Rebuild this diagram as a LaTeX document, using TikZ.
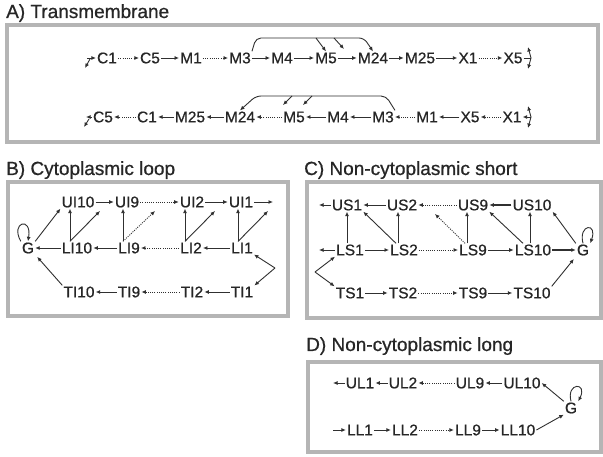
\documentclass[tikz,border=0pt]{standalone}
\usepackage{fontspec}
\setmainfont{Liberation Sans}
\newfontfamily\heavyfont{Liberation Sans}[FakeBold=0.7]
\usetikzlibrary{arrows.meta}
\definecolor{txt}{HTML}{262626}
\definecolor{ln}{HTML}{303030}
\definecolor{bx}{HTML}{B5B5B5}
\begin{document}
\begin{tikzpicture}[x=1pt,y=-1pt,
  lab/.style={inner sep=1pt, font=\heavyfont\fontsize{15.5}{16}\selectfont, text=txt},
  ttl/.style={inner sep=0pt, anchor=base west, font=\heavyfont\fontsize{19}{20}\selectfont, text=txt},
  panel/.style={draw=bx, line width=4pt},
  arr/.style={draw=ln, line width=0.9pt, -{Latex[length=4.5pt,width=4pt]}},
  darr/.style={arr, dash pattern=on 1pt off 1.2pt},
  thk/.style={arr, line width=1.5pt},
  plain/.style={draw=ln, line width=0.9pt}
]
\useasboundingbox (0,0) rectangle (603,457);
\fill[white] (0,0) rectangle (603,457);

% ---------- titles and panels
\node[ttl] (tA) at (6,18) {A) Transmembrane};
\node[ttl] (tB) at (6,175) {B) Cytoplasmic loop};
\node[ttl] (tC) at (304,175) {C) Non-cytoplasmic short};
\node[ttl] (tD) at (306,351) {D) Non-cytoplasmic long};
\draw[panel] (7,25) rectangle (598,142);
\draw[panel] (8,182) rectangle (288,316);
\draw[panel] (307,182) rectangle (601,318);
\draw[panel] (308,362) rectangle (601,452);

% ---------- A, row 1
\foreach \n/\x in {C1/107,C5/150,M1/191,M3/240,M4/282,M5/326,M24/373,M25/420,X1/468,X5/513}
  \node[lab] (a1\n) at (\x,58) {\n};
\draw[darr] (a1C1) -- (a1C5);
\draw[arr] (a1C5) -- (a1M1);
\draw[darr] (a1M1) -- (a1M3);
\draw[arr] (a1M3) -- (a1M4);
\draw[arr] (a1M4) -- (a1M5);
\draw[arr] (a1M5) -- (a1M24);
\draw[arr] (a1M24) -- (a1M25);
\draw[arr] (a1M25) -- (a1X1);
\draw[darr] (a1X1) -- (a1X5);
\draw[arr, rounded corners=5pt] (a1M3.north east) -- (256,38) -- (364,38) -- (a1M24.north);
\coordinate (a1b1) at (316,38);
\coordinate (a1b2) at (334,38);
\coordinate (a1e2) at (344,49);
\draw[arr] (a1b1) -- (a1M5.north);
\draw[arr] (a1b2) -- (a1e2);
\coordinate (a1L) at (87,58);
\coordinate (a1Ls) at (90,59);
\coordinate (a1Ld) at (85,68);
\draw[arr] (a1L) -- (a1C1);
\draw[arr] (a1Ls) -- (a1Ld);
\coordinate (a1R) at (531,58);
\coordinate (a1Ru) at (528,47);
\coordinate (a1Rd) at (528,69);
\draw[plain] (a1X5) -- (a1R);
\draw[arr] (a1R) -- (a1Ru);
\draw[arr] (a1R) -- (a1Rd);

% ---------- A, row 2
\foreach \n/\x in {C5/103,C1/147,M25/190,M24/240,M5/294,M4/338,M3/383,M1/427,X5/470,X1/512}
  \node[lab] (a2\n) at (\x,117) {\n};
\draw[darr] (a2C1) -- (a2C5);
\draw[arr] (a2M25) -- (a2C1);
\draw[arr] (a2M24) -- (a2M25);
\draw[darr] (a2M5) -- (a2M24);
\draw[arr] (a2M4) -- (a2M5);
\draw[arr] (a2M3) -- (a2M4);
\draw[darr] (a2M1) -- (a2M3);
\draw[arr] (a2X5) -- (a2M1);
\draw[darr] (a2X1) -- (a2X5);
\draw[arr, rounded corners=5pt] (a2M3.north east) -- (386,96) -- (256,96) -- (a2M24.north);
\coordinate (a2b1) at (292,96);
\coordinate (a2e1) at (283,105);
\coordinate (a2b2) at (312,96);
\coordinate (a2e2) at (303,105);
\draw[arr] (a2b1) -- (a2e1);
\draw[arr] (a2b2) -- (a2e2);
\coordinate (a2L) at (86,117);
\coordinate (a2Ls) at (89,119);
\coordinate (a2Ld) at (84,127);
\draw[arr] (a2C5) -- (a2L);
\draw[arr] (a2Ls) -- (a2Ld);
\coordinate (a2R) at (531,117);
\coordinate (a2Ru) at (528,106);
\coordinate (a2Rd) at (528,128);
\draw[arr] (a2R) -- (a2X1);
\draw[arr] (a2R) -- (a2Ru);
\draw[arr] (a2R) -- (a2Rd);

% ---------- B
\foreach \n/\x in {UI10/78,UI9/127,UI2/192,UI1/241}
  \node[lab] (b\n) at (\x,202) {\n};
\foreach \n/\x in {LI10/77,LI9/129,LI2/191,LI1/242}
  \node[lab] (b\n) at (\x,248) {\n};
\foreach \n/\x in {TI10/79,TI9/129,TI2/192,TI1/242}
  \node[lab] (b\n) at (\x,292) {\n};
\node[lab] (bG) at (28,248) {G};
\coordinate (bUIe) at (273,202);
\draw[arr] (bUI10) -- (bUI9);
\draw[darr] (bUI9) -- (bUI2);
\draw[arr] (bUI2) -- (bUI1);
\draw[arr] (bUI1) -- (bUIe);
\draw[arr] (bLI10) -- (bG);
\draw[arr] (bLI9) -- (bLI10);
\draw[darr] (bLI2) -- (bLI9);
\draw[arr] (bLI1) -- (bLI2);
\draw[arr] (bTI9) -- (bTI10);
\draw[darr] (bTI2) -- (bTI9);
\draw[arr] (bTI1) -- (bTI2);
\draw[arr] (bG.north east) -- (bUI10.south west);
\draw[arr, shorten >=3pt] (bTI10.north west) -- (bG.south east);
\draw[arr] (bG.north west) .. controls (10,222) and (32,216) .. (bG.north);
\coordinate (bd1) at (100,211);
\coordinate (bd2) at (155,211);
\coordinate (bd3) at (215,211);
\coordinate (bd4) at (268,211);
\draw[arr] ([xshift=-7pt]bLI10.north) -- ([xshift=-8pt]bUI10.south);
\draw[arr] ([xshift=-7pt]bLI10.north) -- (bd1);
\draw[arr] ([xshift=-6pt]bLI9.north) -- ([xshift=-4pt]bUI9.south);
\draw[darr] ([xshift=-6pt]bLI9.north) -- (bd2);
\draw[arr] ([xshift=-6pt]bLI2.north) -- ([xshift=-7pt]bUI2.south);
\draw[arr] ([xshift=-6pt]bLI2.north) -- (bd3);
\draw[arr] ([xshift=-4pt]bLI1.north) -- ([xshift=-3pt]bUI1.south);
\draw[arr] ([xshift=-4pt]bLI1.north) -- (bd4);
\coordinate (bR) at (275,268);
\draw[arr] (bR) -- (bLI1.south east);
\draw[arr] (bR) -- (bTI1.north east);

% ---------- C
\foreach \n/\x in {US1/347,US2/402,US9/473,US10/532}
  \node[lab] (c\n) at (\x,205) {\n};
\foreach \n/\x in {LS1/350,LS2/404,LS9/473,LS10/533}
  \node[lab] (c\n) at (\x,250) {\n};
\foreach \n/\x in {TS1/350,TS2/403,TS9/473,TS10/532}
  \node[lab] (c\n) at (\x,293) {\n};
\node[lab] (cG) at (583,250) {G};
\coordinate (cUSe) at (319,205);
\coordinate (cLSe) at (319,250);
\draw[arr] (cUS1) -- (cUSe);
\draw[arr] (cUS2) -- (cUS1);
\draw[darr] (cUS9) -- (cUS2);
\draw[thk] (cUS10) -- (cUS9);
\draw[arr] (cLS1) -- (cLSe);
\draw[arr] (cLS1) -- (cLS2);
\draw[darr] (cLS2) -- (cLS9);
\draw[arr] (cLS9) -- (cLS10);
\draw[thk] (cLS10) -- (cG);
\draw[arr] (cTS1) -- (cTS2);
\draw[darr] (cTS2) -- (cTS9);
\draw[arr] (cTS9) -- (cTS10);
\draw[arr] ([xshift=-3pt]cLS1.north) -- ([xshift=0pt]cUS1.south);
\draw[arr] ([xshift=-6pt]cLS2.north) -- ([xshift=-4pt]cUS2.south);
\draw[arr] ([xshift=-6pt]cLS9.north) -- ([xshift=-6pt]cUS9.south);
\draw[arr] ([xshift=-3pt]cLS10.north) -- ([xshift=-2pt]cUS10.south);
\coordinate (cd2) at (435,214);
\draw[arr] ([xshift=-8pt]cLS2.north) -- (cUS1.south east);
\draw[darr] ([xshift=-8pt]cLS9.north) -- (cd2);
\draw[arr] ([xshift=-10pt]cLS10.north) -- (cUS9.south east);
\draw[arr] (cG.north west) -- (cUS10.south east);
\draw[arr, shorten >=3pt] (cTS10.north east) -- (cG.south west);
\draw[arr] (cG.north) .. controls (578,224) and (598,222) .. (cG.north east);
\coordinate (cL) at (315,272);
\draw[arr] (cL) -- (cLS1.south west);
\draw[arr] (cL) -- (cTS1.north west);

% ---------- D
\foreach \n/\x in {UL1/360,UL2/403,UL9/470,UL10/522}
  \node[lab] (d\n) at (\x,383) {\n};
\foreach \n/\x in {LL1/360,LL2/405,LL9/468,LL10/518}
  \node[lab] (d\n) at (\x,430) {\n};
\node[lab] (dG) at (571,408) {G};
\coordinate (dULe) at (333,383);
\coordinate (dLLs) at (333,430);
\draw[arr] (dUL1) -- (dULe);
\draw[arr] (dUL2) -- (dUL1);
\draw[darr] (dUL9) -- (dUL2);
\draw[arr] (dUL10) -- (dUL9);
\draw[arr] (dG.north west) -- (dUL10.east);
\draw[arr] (dLLs) -- (dLL1);
\draw[arr] (dLL1) -- (dLL2);
\draw[darr] (dLL2) -- (dLL9);
\draw[arr] (dLL9) -- (dLL10);
\draw[arr] (dLL10.east) -- (dG.south west);
\draw[arr] (dG.north) .. controls (566,382) and (588,382) .. (dG.north east);
\end{tikzpicture}
\end{document}
